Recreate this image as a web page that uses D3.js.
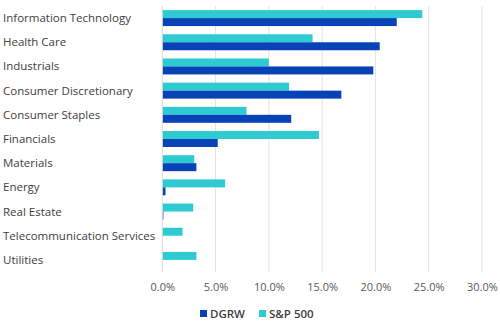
<!DOCTYPE html>
<html>
<head>
<meta charset="utf-8">
<script src="https://cdn.jsdelivr.net/npm/d3@7"></script>
<style>
  body { margin: 0; background: #fff; }
  svg { display: block; font-family: "Open Sans", sans-serif; }
</style>
</head>
<body>
<div id="chart"></div>
<script>
const sectors = ['Information Technology', 'Health Care', 'Industrials', 'Consumer Discretionary',
  'Consumer Staples', 'Financials', 'Materials', 'Energy', 'Real Estate',
  'Telecommunication Services', 'Utilities'];
const sp500 = [24.4, 14.1, 10.0, 11.9, 7.9, 14.7, 3.0, 5.9, 2.9, 1.9, 3.2];
const dgrw = [22.0, 20.4, 19.8, 16.8, 12.1, 5.2, 3.2, 0.3, 0.1, 0, 0];
const xTicks = [0, 5, 10, 15, 20, 25, 30];
const seriesNames = ['S&P 500', 'DGRW'];

const colors = { 'DGRW': '#0742b6', 'S&P 500': '#2ecbd3' };
const width = 500, height = 321;
const margin = { top: 6, right: 18, bottom: 49, left: 162.3 };

const rows = sectors.map((s, i) => ({ sector: s, 'S&P 500': sp500[i], 'DGRW': dgrw[i] }));

const svg = d3.select('#chart').append('svg')
  .attr('width', width)
  .attr('height', height);

const x = d3.scaleLinear()
  .domain([0, 30])
  .range([margin.left, 482]);

const y = d3.scaleBand()
  .domain(sectors)
  .range([margin.top, 272])
  .paddingInner(0.34)
  .paddingOuter(0.17);

const y1 = d3.scaleBand()
  .domain(seriesNames)
  .range([0, y.bandwidth()]);

// gridlines
svg.append('g')
  .selectAll('line')
  .data(xTicks.slice(1))
  .join('line')
  .attr('x1', d => x(d))
  .attr('x2', d => x(d))
  .attr('y1', margin.top)
  .attr('y2', 272)
  .attr('stroke', '#e3e3e3')
  .attr('stroke-width', 1);

// bars
const groups = svg.append('g')
  .selectAll('g')
  .data(rows)
  .join('g')
  .attr('transform', d => `translate(0,${y(d.sector)})`);

groups.selectAll('rect')
  .data(d => seriesNames.map(k => ({ key: k, value: d[k] })))
  .join('rect')
  .attr('x', x(0))
  .attr('y', d => y1(d.key))
  .attr('width', d => x(d.value) - x(0))
  .attr('height', y1.bandwidth())
  .attr('fill', d => colors[d.key]);

// zero line
svg.append('line')
  .attr('x1', x(0))
  .attr('x2', x(0))
  .attr('y1', margin.top)
  .attr('y2', 272)
  .attr('stroke', '#d9d9d9');

// category labels
svg.append('g')
  .selectAll('text')
  .data(sectors)
  .join('text')
  .attr('x', 3)
  .attr('y', d => y(d) + y.bandwidth() / 2)
  .attr('dy', '0.35em')
  .attr('fill', '#404040')
  .style('font-size', '11.5px')
  .text(d => d);

// x axis
const xAxis = svg.append('g')
  .attr('transform', 'translate(0,272)')
  .call(d3.axisBottom(x).tickValues(xTicks).tickSize(0).tickPadding(11)
    .tickFormat(d => d.toFixed(1) + '%'));
xAxis.select('.domain').remove();
xAxis.selectAll('text')
  .attr('fill', '#595959')
  .style('font-size', '11px')
  .style('font-family', '"Open Sans", sans-serif');

// legend
const legend = svg.append('g')
  .attr('transform', 'translate(200,314)');
const items = [{ key: 'DGRW', dx: 0 }, { key: 'S&P 500', dx: 59 }];
const li = legend.selectAll('g')
  .data(items)
  .join('g')
  .attr('transform', d => `translate(${d.dx},0)`);
li.append('rect')
  .attr('x', 0)
  .attr('y', -4)
  .attr('width', 7)
  .attr('height', 7)
  .attr('fill', d => colors[d.key]);
li.append('text')
  .attr('x', 10)
  .attr('y', 0)
  .attr('dy', '0.35em')
  .attr('fill', '#404040')
  .style('font-size', '11.5px')
  .style('font-weight', 600)
  .text(d => d.key);
</script>
</body>
</html>
